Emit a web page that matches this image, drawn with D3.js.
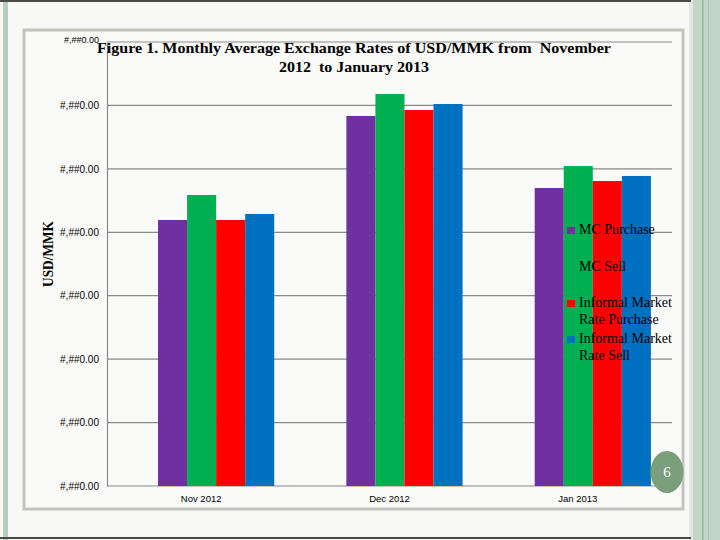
<!DOCTYPE html>
<html>
<head>
<meta charset="utf-8">
<script src="https://cdn.jsdelivr.net/npm/d3@7"></script>
<style>
    body { margin: 0; background: #f8f8f6; }
    svg { display: block; }
</style>
</head>
<body>
<svg id="slide" width="720" height="540"></svg>
<script>
// Monthly averages
const months = ["Nov 2012", "Dec 2012", "Jan 2013"];
const seriesNames = ["MC Purchase", "MC Sell", "Informal Market Rate Purchase", "Informal Market Rate Sell"];
const mcPurchase = [870.97, 879.17, 873.49];
const mcSell = [872.94, 880.90, 875.22];
const informalPurchase = [870.97, 879.64, 874.04];
const informalSell = [871.44, 880.11, 874.44];
const yTicks = [850, 855, 860, 865, 870, 875, 880, 885];
const yTickLabels = ["#,##0.00", "#,##0.00", "#,##0.00", "#,##0.00", "#,##0.00", "#,##0.00", "#,##0.00", "#,##0.00"];
const colors = ["#7030a0", "#00b050", "#ff0000", "#0070c0"];

class Slide {

    constructor() {
        this.svg = d3.select("#slide");
        this.series = [mcPurchase, mcSell, informalPurchase, informalSell];
        this.drawFrame();
        this.drawChart();
        this.drawLegend();
        this.drawPageNumber();
    }

    drawFrame() {
        const svg = this.svg;
        svg.append("rect").attr("width", 720).attr("height", 540).attr("fill", "#f8f8f6");

        // slide border bands
        svg.append("rect").attr("x", 3).attr("y", 0).attr("width", 5).attr("height", 540).attr("fill", "#b9cfbe");
        svg.append("rect").attr("x", 689).attr("y", 0).attr("width", 4).attr("height", 540).attr("fill", "#dfe8e1");
        svg.append("rect").attr("x", 693).attr("y", 0).attr("width", 27).attr("height", 540).attr("fill", "#c3d5c7");
        svg.append("rect").attr("x", 702).attr("y", 0).attr("width", 1.5).attr("height", 540).attr("fill", "#8fb598");
        svg.append("rect").attr("x", 708).attr("y", 0).attr("width", 1).attr("height", 540).attr("fill", "#a9c3ae");
        svg.append("rect").attr("x", 0).attr("y", 0).attr("width", 691).attr("height", 2).attr("fill", "#4a4a4a");
        svg.append("rect").attr("x", 0).attr("y", 537).attr("width", 691).attr("height", 2).attr("fill", "#4a4a4a");

        // chart frame
        svg.append("rect")
            .attr("x", 24).attr("y", 30)
            .attr("width", 659).attr("height", 479)
            .attr("fill", "#fafaf9")
            .attr("stroke", "#c4c4bc")
            .attr("stroke-width", 3);
    }

    drawChart() {
        const svg = this.svg;
        const left = 107, right = 672, top = 42, bottom = 486;

        this.x = d3.scaleBand().domain(months).range([left, right]);
        this.y = d3.scaleLinear().domain([yTicks[0], yTicks[yTicks.length - 1]]).range([bottom, top]);
        const bw = this.x.bandwidth();
        this.xSub = d3.scaleBand().domain(d3.range(seriesNames.length)).range([bw * 0.271, bw * 0.888]);

        // gridlines
        svg.append("g")
            .selectAll("line")
            .data(yTicks)
            .enter()
            .append("line")
                .attr("x1", left).attr("x2", right)
                .attr("y1", d => this.y(d)).attr("y2", d => this.y(d))
                .attr("stroke", "#8a8a8a")
                .attr("stroke-width", 1.2);

        // y axis
        const yAxis = d3.axisLeft(this.y)
            .tickValues(yTicks)
            .tickFormat((d, i) => yTickLabels[i])
            .tickSize(0)
            .tickPadding(8);
        const gy = svg.append("g").attr("transform", `translate(${left},0)`).call(yAxis);
        gy.select(".domain").attr("stroke", "#8a8a8a").attr("stroke-width", 1.2);
        gy.selectAll("text")
            .attr("font-family", "Liberation Sans, Arial, sans-serif")
            .attr("font-size", "10px")
            .attr("fill", "#000");
        gy.selectAll(".tick").filter(d => d === yTicks[yTicks.length - 1])
            .select("text").attr("font-size", "9px").attr("dy", "0.1em");

        // bars
        months.forEach((m, i) => {
            svg.append("g")
                .attr("transform", `translate(${this.x(m)},0)`)
                .selectAll("rect")
                .data(this.series.map((s, k) => ({ k: k, v: s[i] })))
                .enter()
                .append("rect")
                    .attr("x", d => this.xSub(d.k))
                    .attr("width", this.xSub.bandwidth())
                    .attr("y", d => this.y(d.v))
                    .attr("height", d => bottom - this.y(d.v))
                    .attr("fill", d => colors[d.k]);
        });

        // x labels
        const xAxis = d3.axisBottom(this.x).tickSize(0).tickPadding(9);
        const gx = svg.append("g").attr("transform", `translate(0,${bottom})`).call(xAxis);
        gx.select(".domain").remove();
        gx.selectAll("text")
            .attr("font-family", "Liberation Sans, Arial, sans-serif")
            .attr("font-size", "9.5px")
            .attr("fill", "#000");

        // axis title
        svg.append("text")
            .attr("transform", "translate(53,254) rotate(-90)")
            .attr("text-anchor", "middle")
            .attr("font-family", "Liberation Serif, Times New Roman, serif")
            .attr("font-weight", "bold")
            .attr("font-size", "15px")
            .attr("textLength", 66).attr("lengthAdjust", "spacingAndGlyphs")
            .text("USD/MMK");

        // title
        const title = svg.append("g")
            .attr("font-family", "Liberation Serif, Times New Roman, serif")
            .attr("font-weight", "bold")
            .attr("font-size", "15.5px")
            .attr("text-anchor", "middle");
        title.append("text")
            .attr("x", 354).attr("y", 53)
            .attr("textLength", 514).attr("lengthAdjust", "spacingAndGlyphs")
            .style("white-space", "pre")
            .text("Figure 1. Monthly Average Exchange Rates of USD/MMK from  November");
        title.append("text")
            .attr("x", 354).attr("y", 72)
            .attr("textLength", 150).attr("lengthAdjust", "spacingAndGlyphs")
            .style("white-space", "pre")
            .text("2012  to January 2013");
    }

    drawLegend() {
        const rows = [
            ["MC Purchase"],
            ["MC Sell"],
            ["Informal Market", "Rate Purchase"],
            ["Informal Market", "Rate Sell"]
        ];
        const rowY = [234, 271, 307, 343];

        const legend = this.svg.append("g")
            .selectAll("g")
            .data(rows)
            .enter()
            .append("g")
                .attr("transform", (d, i) => `translate(567,${rowY[i]})`);

        legend.append("rect")
            .attr("y", -7).attr("width", 8).attr("height", 7)
            .attr("fill", (d, i) => colors[i]);

        legend.append("text")
            .attr("x", 12)
            .attr("font-family", "Liberation Serif, Times New Roman, serif")
            .attr("font-size", "14px")
            .attr("fill", "#000")
            .selectAll("tspan")
            .data(d => d)
            .enter()
            .append("tspan")
                .attr("x", 12)
                .attr("dy", (d, i) => i ? 17 : 0)
                .text(d => d);
    }

    drawPageNumber() {
        this.svg.append("ellipse")
            .attr("cx", 667).attr("cy", 472)
            .attr("rx", 16.5).attr("ry", 21)
            .attr("fill", "#7a9f7a");
        this.svg.append("text")
            .attr("x", 667).attr("y", 477)
            .attr("text-anchor", "middle")
            .attr("font-family", "Liberation Serif, Times New Roman, serif")
            .attr("font-size", "15px")
            .attr("fill", "#fff")
            .text("6");
    }
}

new Slide();
</script>
</body>
</html>
